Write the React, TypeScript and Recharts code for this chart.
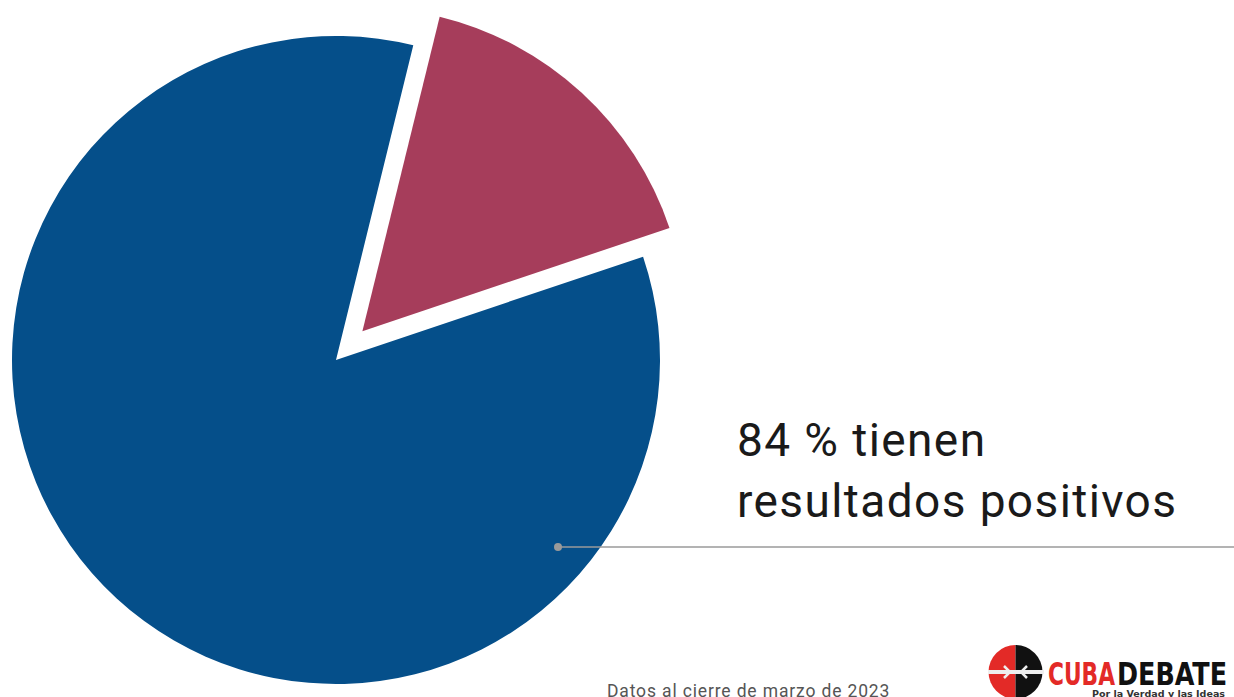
import React from "react";
import { PieChart, Pie, Cell } from "recharts";

// shares of cases (%)
const categories = ["Resultados negativos", "Resultados positivos"];
const shares = [16, 84];
const colors = ["#a63d5b", "#054f8a"];
const exploded = 0; // index of the pulled-out slice

const data = categories.map((name, i) => ({ name, value: shares[i] }));

const W = 1234;
const H = 697;
const CX = 336;
const CY = 360;
const R = 324;
const START = 18.6;
const PULL = 39;

export default function App() {
  // mid angle of the exploded slice, to push it outwards
  const total = shares.reduce((a, b) => a + b, 0);
  const before = shares.slice(0, exploded).reduce((a, b) => a + b, 0);
  const mid = START + ((before + shares[exploded] / 2) / total) * 360;
  const rad = (mid * Math.PI) / 180;
  const dx = PULL * Math.cos(rad);
  const dy = -PULL * Math.sin(rad);

  const narrow = "'Liberation Sans Narrow', 'DejaVu Sans Condensed', sans-serif";

  return (
    <div style={{ position: "absolute", left: 0, top: 0, width: W, height: H, background: "#fff", overflow: "hidden" }}>
      <PieChart width={W} height={H} margin={{ top: 0, right: 0, bottom: 0, left: 0 }}>
        <Pie
          data={data} dataKey="value" nameKey="name"
          cx={CX} cy={CY} outerRadius={R}
          startAngle={START} endAngle={START + 360}
          stroke="none" isAnimationActive={false}
        >
          {data.map((d, i) => (
            <Cell key={d.name} fill={i === exploded ? "none" : colors[i]} />
          ))}
        </Pie>
        <Pie
          data={data} dataKey="value" nameKey="name"
          cx={CX + dx} cy={CY + dy} outerRadius={R}
          startAngle={START} endAngle={START + 360}
          stroke="none" isAnimationActive={false}
        >
          {data.map((d, i) => (
            <Cell key={d.name} fill={i === exploded ? colors[i] : "none"} />
          ))}
        </Pie>
      </PieChart>

      <svg width={W} height={H} style={{ position: "absolute", left: 0, top: 0 }}>
        <line x1={558} y1={547} x2={W} y2={547} stroke="#9a9a9a" strokeWidth={1.5} />
        <circle cx={558} cy={547} r={4} fill="#9a9a9a" />
        <text fontFamily="Roboto" fontSize={46} letterSpacing={1.4} fill="#1a1a1a">
          <tspan x={737} y={456}>84 % tienen</tspan>
          <tspan x={737} y={517}>resultados positivos</tspan>
        </text>
        <text x={607} y={697} fontFamily="Roboto" fontSize={17.5} letterSpacing={0.85} fill="#555">
          Datos al cierre de marzo de 2023
        </text>

        {/* logo */}
        <g>
          <path d="M1015.5 645 A27 27 0 0 0 1015.5 699 Z" fill="#e32a27" />
          <path d="M1015.5 645 A27 27 0 0 1 1015.5 699 Z" fill="#111" />
          <rect x={988} y={670} width={56} height={4} fill="#eee" />
          <path d="M1004 666 L1010 672 L1004 678" stroke="#eee" strokeWidth={2.5} fill="none" />
          <path d="M1027 666 L1021 672 L1027 678" stroke="#eee" strokeWidth={2.5} fill="none" />
          <text x={1048} y={685} fontFamily={narrow} fontWeight="bold" fontSize={32}
            fill="#e32a27" textLength={67} lengthAdjust="spacingAndGlyphs">CUBA</text>
          <text x={1117} y={685} fontFamily={narrow} fontWeight="bold" fontSize={32}
            fill="#111" textLength={110} lengthAdjust="spacingAndGlyphs">DEBATE</text>
          <text x={1092} y={697} fontFamily={narrow} fontWeight="bold"
            fontSize={9} fill="#333" textLength={133} lengthAdjust="spacingAndGlyphs">
            Por la Verdad y las Ideas
          </text>
        </g>
      </svg>
    </div>
  );
}
